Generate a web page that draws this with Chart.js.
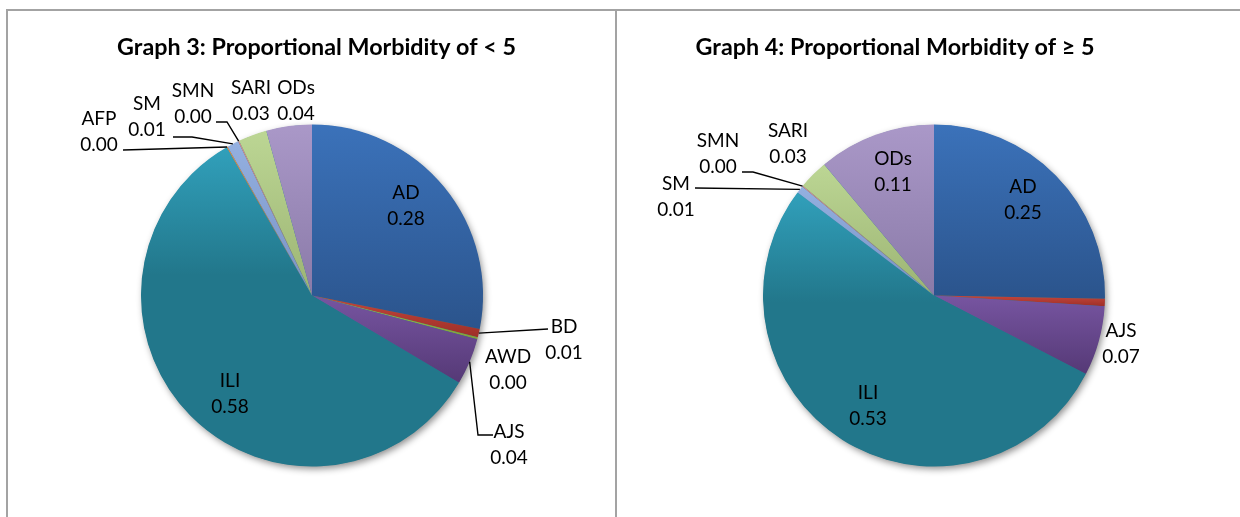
<!DOCTYPE html>
<html><head><meta charset="utf-8">
<script src="https://cdn.jsdelivr.net/npm/chart.js@4.4.1/dist/chart.umd.min.js"></script>
<style>
html,body{margin:0;padding:0;background:#fff;}
#wrap{position:relative;width:1240px;height:517px;overflow:hidden;background:#fff;}
.line{position:absolute;background:#a3a3a3;}
canvas{position:absolute;}
</style></head><body>
<div id="wrap">
<div class="line" style="left:6px;top:9px;width:1234px;height:2px"></div>
<div class="line" style="left:6px;top:9px;width:2px;height:508px"></div>
<div class="line" style="left:615px;top:9px;width:2px;height:508px"></div>
<canvas id="c1" width="607" height="506" style="left:8px;top:11px"></canvas>
<canvas id="c2" width="623" height="506" style="left:617px;top:11px"></canvas>
</div>
<script>
// ---- data ----
const categories = ['AD','BD','AWD','AJS','ILI','AFP','SM','SMN','SARI','ODs'];
const under5Values = [0.281,0.008,0.002,0.044,0.581,0.001,0.011,0.001,0.027,0.043];
const over5Values  = [0.253,0.007,0.000,0.066,0.527,0.000,0.007,0.001,0.028,0.111];
const under5Title = 'Graph 3: Proportional Morbidity of < 5';
const over5Title  = 'Graph 4: Proportional Morbidity of \u2265 5';

// ---- styles ----
const PIE_RADIUS = 171;
const sliceColors = {
  AD:['#3b72ba','#2b548c',1], BD:['#c4463b','#9e2f28',1], AWD:['#a0bf52','#80a038',1],
  AJS:['#7755a1','#553976',1], ILI:['#31a0bb','#22778b',0.4], AFP:['#f28e3e','#d9741f',1],
  SM:['#94b0e0','#7892c4',1], SMN:['#e38c8a','#cc6c6a',1], SARI:['#bcd694','#9cb473',1],
  ODs:['#aa98c8','#8a7aa8',1]
};
// label anchors (offset from pie centre) and leader lines
const under5Layout = {
  AD:{dx:94,dy:-90}, BD:{dx:252,dy:44,leader:[[236,33.5]]}, AWD:{dx:196,dy:74},
  AJS:{dx:197,dy:149,leader:[[166,139.5],[181,139.5]]}, ILI:{dx:-82,dy:98.5},
  AFP:{dx:-213,dy:-163.5,leader:[[-189,-145.5]]}, SM:{dx:-165,dy:-178.5,leader:[[-120,-158.5],[-139,-158.5]]},
  SMN:{dx:-119,dy:-192,leader:[[-85,-173.5],[-96,-173.5]]}, SARI:{dx:-61,dy:-195}, ODs:{dx:-16,dy:-195}
};
const over5Layout = {
  AD:{dx:89,dy:-96}, ODs:{dx:-41,dy:-124}, AJS:{dx:187,dy:48.5}, ILI:{dx:-66,dy:110.5},
  SM:{dx:-258,dy:-99,leader:[[-239,-107.5]]}, SMN:{dx:-216,dy:-141.5,leader:[[-181,-123.5],[-192,-123.5]]},
  SARI:{dx:-146,dy:-152}
};

function sliceGradient(ctx) {
  const chart = ctx.chart, ca = chart.chartArea, i = ctx.dataIndex;
  const cat = chart.data.labels[i], pair = sliceColors[cat];
  if (!ca || ctx.type !== 'data') return pair[1];
  const data = chart.data.datasets[0].data;
  const total = data.reduce((a,b)=>a+b,0);
  let cum = 0; for (let k=0;k<i;k++) cum += data[k];
  const a0 = -Math.PI/2 + cum/total*2*Math.PI, a1 = a0 + data[i]/total*2*Math.PI;
  const cy = (ca.top+ca.bottom)/2, r = PIE_RADIUS;
  const ys = [cy];
  for (let s=0;s<=64;s++){ const a=a0+(a1-a0)*s/64; ys.push(cy+r*Math.sin(a)); }
  const y0 = Math.min(...ys), y1 = Math.max(...ys);
  const g = chart.ctx.createLinearGradient(0,y0,0,Math.max(y1,y0+1));
  g.addColorStop(0,pair[0]); g.addColorStop(pair[2],pair[1]); g.addColorStop(1,pair[1]);
  return g;
}

const pieDecor = {
  id:'pieDecor',
  beforeDatasetsDraw(chart){
    const p = chart.getDatasetMeta(0).data[0].getProps(['x','y','outerRadius'],true);
    const c = chart.ctx; c.save();
    c.shadowColor='rgba(0,0,0,0.45)'; c.shadowBlur=7; c.shadowOffsetX=2; c.shadowOffsetY=3;
    c.beginPath(); c.arc(p.x,p.y,p.outerRadius-0.5,0,Math.PI*2); c.fillStyle='#24788c'; c.fill();
    c.restore();
  },
  afterDatasetsDraw(chart, args, opts){
    const c = chart.ctx, meta = chart.getDatasetMeta(0);
    const labels = chart.data.labels, data = chart.data.datasets[0].data;
    c.save();
    c.fillStyle='#000'; c.textAlign='center'; c.textBaseline='middle';
    c.font = opts.titleFont;
    c.fillText(opts.title, opts.titleX, opts.titleY);
    c.font = opts.labelFont;
    labels.forEach((cat,i)=>{
      const lay = opts.layout[cat]; if(!lay) return;
      const p = meta.data[i].getProps(['x','y','startAngle','endAngle','outerRadius'],true);
      const ax = p.x+lay.dx, ay = p.y+lay.dy;
      c.fillText(cat, ax, ay-opts.lineGap/2);
      c.fillText(data[i].toFixed(2), ax, ay+opts.lineGap/2);
      if (lay.leader){
        const mid=(p.startAngle+p.endAngle)/2;
        c.beginPath();
        c.moveTo(p.x+p.outerRadius*Math.cos(mid), p.y+p.outerRadius*Math.sin(mid));
        lay.leader.forEach(pt=>c.lineTo(p.x+pt[0], p.y+pt[1]));
        c.strokeStyle='#000'; c.lineWidth=1.4; c.stroke();
      }
    });
    c.restore();
  }
};

function makePie(id, values, title, layout, pad, titleX){
  return new Chart(document.getElementById(id), {
    type:'pie',
    data:{ labels: categories, datasets:[{ data: values, backgroundColor: sliceGradient, borderWidth:0 }] },
    options:{
      responsive:false, animation:false, events:[],
      radius: PIE_RADIUS,
      layout:{ padding: pad },
      plugins:{
        legend:{display:false}, tooltip:{enabled:false}, title:{display:false},
        pieDecor:{ title, titleX, titleY:36, titleFont:'bold 23.3px Lato', labelFont:'19px Lato', lineGap:26, layout }
      }
    },
    plugins:[pieDecor]
  });
}
makePie('c1', under5Values, under5Title, under5Layout, {left:1,right:0,top:63,bottom:0}, 308.5);
makePie('c2', over5Values, over5Title, over5Layout, {left:11,right:0,top:63,bottom:0}, 278);
</script>
</body></html>
